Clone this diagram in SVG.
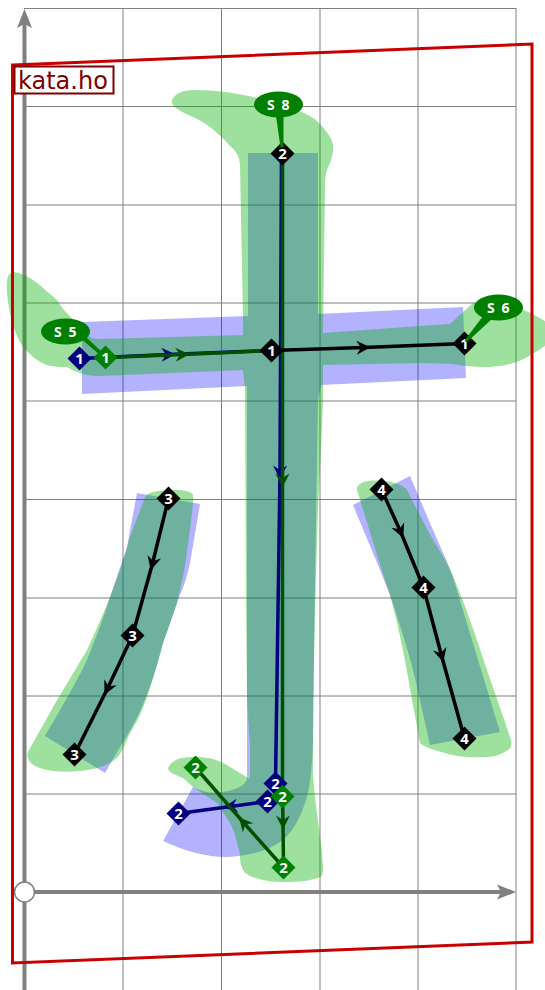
<svg xmlns="http://www.w3.org/2000/svg" width="545" height="990" viewBox="0 0 545 990">
<style>
.grid{stroke:#808080;stroke-width:1;fill:none}
.axis{stroke:#808080;stroke-width:4;fill:none}
.blue{fill:#0000ff;fill-opacity:.3}
.green{fill:#00b000;fill-opacity:.38}
.c{fill:none;stroke-width:3.5}
.cn{stroke:#000080;marker-mid:url(#an)}
.cg{stroke:#005000;marker-mid:url(#ag)}
.ck{stroke:#000;marker-mid:url(#ak)}
.n{font:bold 15px "Noto Sans","DejaVu Sans",sans-serif;fill:#fff;text-anchor:middle}
.s{font:bold 14px "Noto Sans","DejaVu Sans",sans-serif;fill:#fff;text-anchor:middle;letter-spacing:1.5px}
</style>
<defs>
<path id="dia" d="M0-12 12 0 0 12-12 0Z"/>
<marker id="an" markerUnits="userSpaceOnUse" markerWidth="20" markerHeight="20" refX="9" refY="10" orient="auto" overflow="visible"><path d="M2 3 16 10 2 17 6.5 10Z" fill="#000080"/></marker>
<marker id="ag" markerUnits="userSpaceOnUse" markerWidth="20" markerHeight="20" refX="9" refY="10" orient="auto" overflow="visible"><path d="M2 3 16 10 2 17 6.5 10Z" fill="#005000"/></marker>
<marker id="ak" markerUnits="userSpaceOnUse" markerWidth="20" markerHeight="20" refX="9" refY="10" orient="auto" overflow="visible"><path d="M2 3 16 10 2 17 6.5 10Z" fill="#000"/></marker>
</defs>
<rect width="545" height="990" fill="#fff"/>
<g id="grid">
<path class="grid" d="M123 8V990M221.5 8V990M320 8V990M418 8V990M516 8V990"/>
<path class="grid" d="M24 8.5H516M24 106.5H516M24 205H516M24 303H516M24 401H516M24 499.5H516M24 598H516M24 696H516M24 794H516"/>
</g>
<g id="axes">
<path class="axis" d="M24.5 990V20M24 892H506"/>
<path d="M24.5 9 32 28 24.5 24 17 28Z" fill="#808080"/>
<path d="M516 892 497 884.5 501 892 497 899.5Z" fill="#808080"/>
</g>
<g id="reference-strokes">
<path class="blue" d="M82 322 248 316V153H318V314L463 307 466 378 321 385 318 400C316 520 314 640 313 740C312 770 310 785 307 797C300 820 292 832 283 840C268 851 250 856 227 857C205 857 185 851 163 841L193 787C203 792 213 794 222 792C235 790 247 786 247 777V386L82 394Z"/>
<path class="blue" d="M137 493 200 504 190 563C185 585 182 590 177 603L163 643C150 695 135 725 120 747L105 773 45 736C60 710 75 685 87 660C95 640 103 620 110 597L127 547Z"/>
<path class="blue" d="M353 505 410 476 430 523C437 540 445 556 452 574L500 732 430 745 417 687C410 655 400 625 390 595L378 565Z"/>
<path class="green" d="M172 100C176 92 185 90 195 90C225 90 255 96 280 105C290 108 295 110 302 112C310 116 314 118 318 122C326 130 332 138 333 145C334 155 330 163 327 170C325 177 325 182 325 187L323 333L420 326 450 324 473 303C490 303 510 305 523 310C532 313 540 318 548 323V344C535 352 525 360 510 364C490 369 470 367 453 364L420 363 323 365V400C322 430 320 470 318 510C315 600 313 690 313 773C315 810 322 840 323 867C323 875 322 877 318 878C305 882 295 882 283 882C270 882 255 880 245 873C240 865 240 860 240 855C237 842 235 832 230 823C225 815 220 808 217 803L193 787 183 778C175 775 168 772 168 768C172 760 180 757 193 757C205 757 215 758 225 764C235 770 243 775 250 779V745L247 700 246 600 245 388 243 370 243 335L100 339C92 339 88 338 72 318C65 312 60 305 57 300C48 292 40 285 33 280C26 275 18 272 13 272C8 273 6 278 7 293C9 315 15 335 23 347C32 357 41 364 50 366C58 367 62 367 67 367C72 370 76 372 80 373C88 376 94 376 100 376L243 370V316L240 165C240 158 236 150 230 146C222 137 210 125 195 118C182 112 170 107 172 100Z"/>
<path class="green" d="M145 497C148 493 152 492 158 491C165 490 175 490 180 490C187 491 192 492 193 495V504C190 530 187 555 183 577C180 590 178 597 177 603C172 618 168 630 163 643C158 662 153 680 147 697C142 712 137 722 130 733C125 745 122 752 117 758C108 765 100 768 87 770C75 772 65 772 53 771C40 769 33 766 30 762C27 758 27 755 28 752C36 737 45 722 53 707L87 650C95 632 103 615 110 597C118 577 125 557 130 537Z"/>
<path class="green" d="M357 487C360 483 364 481 368 481C378 480 388 481 395 483C401 485 405 487 407 490C417 510 425 525 432 538C440 552 447 562 452 574C462 597 470 620 478 643C490 680 503 715 511 740C512 745 511 748 508 750C500 755 495 757 485 757C470 758 457 757 445 753C433 750 424 747 420 743C418 730 412 700 408 677C403 650 397 620 390 595L378 558 357 490Z"/>
</g>
<g id="connectors" transform="translate(.5 .5)">
<path class="c cn" d="M79 358 168 354 271 350"/>
<path class="c cn" d="M281 153 279.500 472 275 783"/>
<path class="c cn" d="M267 801 230 806 178 813"/>
<path class="c cg" d="M105 357 182 354 271 350"/>
<path class="c cg" d="M282 153 282 480 282 796"/>
<path class="c cg" d="M282 796 282.500 822 283 867"/>
<path class="c cg" d="M283 867 243 822 195 767"/>
<path class="c ck" d="M271 350 363 347 464 343"/>
<path class="c ck" d="M168 498 152 563 132 635"/>
<path class="c ck" d="M132 635 107 688 74 754"/>
<path class="c ck" d="M381 489 400 531 423 587"/>
<path class="c ck" d="M423 587 441 655 464 738"/>
</g>
<g id="nodes" transform="translate(.5 .5)">
<g id="n-b1" fill="#000080"><use href="#dia" x="79" y="358"/><text class="n" x="79" y="363.500">1</text></g>
<g id="n-b2a" fill="#000080"><use href="#dia" x="275" y="783"/><text class="n" x="275" y="788.500">2</text></g>
<g id="n-b2b" fill="#000080"><use href="#dia" x="267" y="801"/><text class="n" x="267" y="806.500">2</text></g>
<g id="n-b2c" fill="#000080"><use href="#dia" x="178" y="813"/><text class="n" x="178" y="818.500">2</text></g>
<g id="n-g1" fill="#008000"><use href="#dia" x="105" y="357"/><text class="n" x="105" y="362.500">1</text></g>
<g id="n-g2a" fill="#008000"><use href="#dia" x="282" y="796"/><text class="n" x="282" y="801.500">2</text></g>
<g id="n-g2b" fill="#008000"><use href="#dia" x="283" y="867"/><text class="n" x="283" y="872.500">2</text></g>
<g id="n-g2c" fill="#008000"><use href="#dia" x="195" y="767"/><text class="n" x="195" y="772.500">2</text></g>
<g id="n-k2" fill="#000"><use href="#dia" x="282" y="153"/><text class="n" x="282" y="158.500">2</text></g>
<g id="n-k1a" fill="#000"><use href="#dia" x="271" y="350"/><text class="n" x="271" y="355.500">1</text></g>
<g id="n-k1b" fill="#000"><use href="#dia" x="464" y="343"/><text class="n" x="464" y="348.500">1</text></g>
<g id="n-k3a" fill="#000"><use href="#dia" x="168" y="498"/><text class="n" x="168" y="503.500">3</text></g>
<g id="n-k3b" fill="#000"><use href="#dia" x="132" y="635"/><text class="n" x="132" y="640.500">3</text></g>
<g id="n-k3c" fill="#000"><use href="#dia" x="74" y="754"/><text class="n" x="74" y="759.500">3</text></g>
<g id="n-k4a" fill="#000"><use href="#dia" x="381" y="489"/><text class="n" x="381" y="494.500">4</text></g>
<g id="n-k4b" fill="#000"><use href="#dia" x="423" y="587"/><text class="n" x="423" y="592.500">4</text></g>
<g id="n-k4c" fill="#000"><use href="#dia" x="464" y="738"/><text class="n" x="464" y="743.500">4</text></g>
<g id="s5" fill="#008000"><path d="M78 336 85 336 103 353 100 355Z"/><ellipse cx="65" cy="331" rx="24.500" ry="13"/><text class="s" x="65.500" y="336" xml:space="preserve">S 5</text></g>
<g id="s8" fill="#008000"><path d="M275 112 283 112 283 147 280 147Z"/><ellipse cx="278" cy="104" rx="24.500" ry="13"/><text class="s" x="278.500" y="109" xml:space="preserve">S 8</text></g>
<g id="s6" fill="#008000"><path d="M483 315 492 318 466 342 464 340Z"/><ellipse cx="498" cy="307" rx="24.500" ry="13"/><text class="s" x="498.500" y="312" xml:space="preserve">S 6</text></g>
</g>
<circle cx="24.500" cy="892" r="10" fill="#fff" stroke="#808080" stroke-width="1.500"/>
<path id="frame" d="M12.500 65 532 44V942L12.500 963Z" fill="none" stroke="#c80000" stroke-width="3"/>
<g id="logo">
<rect x="14.500" y="66.500" width="99" height="27" fill="#fff" stroke="#800000" stroke-width="2"/>
<text x="18" y="88.500" font-family="'DejaVu Sans',sans-serif" font-size="24" fill="#800000">kata.ho</text>
</g>
</svg>
